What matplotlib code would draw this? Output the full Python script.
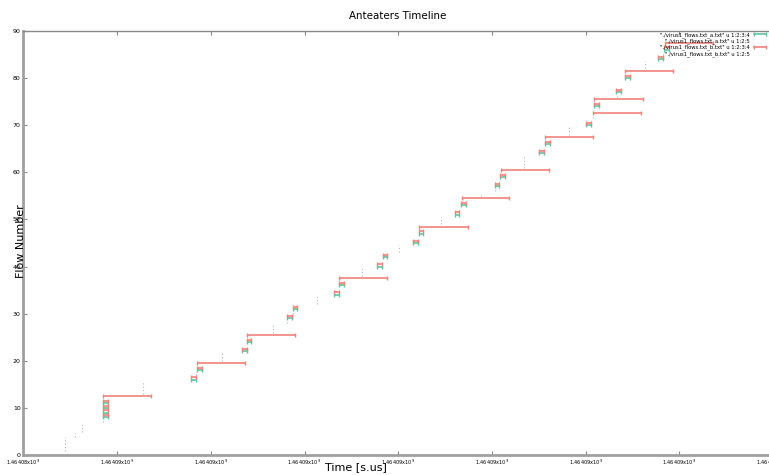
import numpy as np
import matplotlib
matplotlib.use('Agg')
import matplotlib.pyplot as plt
from matplotlib.lines import Line2D

# time offsets (one unit per x tick), flow numbers
a_flow = [8, 9, 10, 11, 16, 18, 22, 24, 29, 31, 34, 36, 40, 42, 45, 47,
          51, 53, 57, 59, 64, 66, 70, 74, 77, 80, 84, 86]
a_mid = [0.876, 0.876, 0.876, 0.876, 1.813, 1.877, 2.358, 2.408, 2.838, 2.899,
         3.344, 3.397, 3.798, 3.859, 4.182, 4.243, 4.628, 4.699, 5.054, 5.115,
         5.527, 5.591, 6.033, 6.118, 6.349, 6.445, 6.801, 6.865]
a_half = 0.026

b_flow = [8.5, 9.5, 10.5, 11.5, 16.5, 18.5, 22.5, 24.5, 29.5, 31.5, 34.5, 36.5,
          40.5, 42.5, 45.5, 47.5, 51.5, 53.5, 57.5, 59.5, 64.5, 66.5, 70.5,
          74.5, 77.5, 80.5, 84.5, 86.5]
b_mid = a_mid
b_long_flow = [12.5, 19.5, 25.5, 37.5, 48.5, 54.5, 60.5, 67.5, 72.5, 75.5, 81.5, 87.5]
b_long_start = [0.853, 1.856, 2.390, 3.371, 4.222, 4.678, 5.094, 5.572, 6.076, 6.093, 6.424, 6.847]
b_long_end = [1.362, 2.368, 2.902, 3.884, 4.742, 5.186, 5.606, 6.082, 6.591, 6.609, 6.936, 7.360]

# u 1:2:5 points, shown as dotted runs
dot_x = [0.444, 0.554, 0.629, 0.850, 1.276, 1.842, 2.116, 2.667, 2.816, 2.877,
         3.137, 3.614, 4.012, 4.457, 4.884, 5.033, 5.342, 5.826, 6.076, 6.332,
         6.634, 6.829]
dot_lo = [0.8, 3.9, 4.9, 7.0, 13.0, 17.0, 20.0, 26.0, 28.0, 30.0, 32.0, 38.0,
          43.0, 49.0, 55.0, 56.0, 61.0, 68.0, 71.5, 76.0, 82.2, 85.0]
dot_hi = [3.8, 4.7, 6.6, 7.6, 15.5, 17.6, 21.6, 27.7, 28.6, 30.5, 33.7, 39.6,
          44.6, 50.6, 55.5, 56.4, 63.7, 69.6, 72.0, 76.5, 83.6, 85.5]

tick_pos = [0, 1, 2, 3, 4, 5, 6, 7, 8]
tick_labels = ['1.46408x10$^9$'] + ['1.46409x10$^9$'] * 8

teal = '#5cc6a4'
red = '#f0837a'
grey = '#b8b8b8'

fig = plt.figure(figsize=(7.69, 4.75), dpi=100)
ax = fig.add_axes([23.4 / 769, 20 / 475, (780 - 23.4) / 769, 424 / 475])

ax.vlines(dot_x, dot_lo, dot_hi, colors=grey, linestyles=(0, (1, 2)), linewidth=0.8)

ax.errorbar(a_mid, a_flow, xerr=a_half, fmt='none', ecolor=teal,
            elinewidth=1.2, capsize=1.2, capthick=1.0)
b_x = list(b_mid) + [(s + e) / 2 for s, e in zip(b_long_start, b_long_end)]
b_err = [a_half] * len(b_mid) + [(e - s) / 2 for s, e in zip(b_long_start, b_long_end)]
ax.errorbar(b_x, list(b_flow) + b_long_flow, xerr=b_err, fmt='none', ecolor=red,
            elinewidth=1.2, capsize=1.2, capthick=1.0)

ax.set_xlim(0, (780 - 23.4) / 93.7)
ax.set_ylim(0, 90)
ax.set_xticks(tick_pos)
ax.set_xticklabels(tick_labels, fontsize=3.6)
ax.set_yticks(np.arange(0, 91, 10))
ax.tick_params(axis='y', labelsize=4.5, direction='in', length=3, color='#888888', pad=2)
ax.tick_params(axis='x', direction='in', length=3, color='#888888', pad=2, top=True)

for s in ['left', 'bottom']:
    ax.spines[s].set_color('#a0a0a0')
    ax.spines[s].set_linewidth(2)
ax.spines['top'].set_color('#888888')
ax.spines['top'].set_linewidth(1)
ax.spines['right'].set_visible(False)

fig.text(398 / 769, 1 - 16 / 475, 'Anteaters Timeline', ha='center', va='center', fontsize=7.4)
fig.text(356 / 769, 1 - 467 / 475, 'Time [s.us]', ha='center', va='center', fontsize=8)
fig.text(21 / 769, 1 - 241 / 475, 'Flow Number', ha='center', va='center',
         fontsize=8, rotation=90)

handles = [Line2D([], [], color=teal, marker='|', markersize=3, lw=1.2),
           Line2D([], [], linestyle='none'),
           Line2D([], [], color=red, marker='|', markersize=3, lw=1.2),
           Line2D([], [], linestyle='none')]
labels = ['"./virus1_flows.txt_a.txt" u 1:2:3:4', '"./virus1_flows.txt_a.txt" u 1:2:5',
          '"./virus1_flows.txt_b.txt" u 1:2:3:4', '"./virus1_flows.txt_b.txt" u 1:2:5']
fig.legend(handles, labels, loc='upper right', bbox_to_anchor=(1.0, 1 - 31 / 475),
           fontsize=3.8, frameon=False, markerfirst=False, handlelength=3.0, numpoints=2,
           labelspacing=0.12, borderaxespad=0, borderpad=0.2, handletextpad=0.5)

fig.savefig('out.png', dpi=100)
